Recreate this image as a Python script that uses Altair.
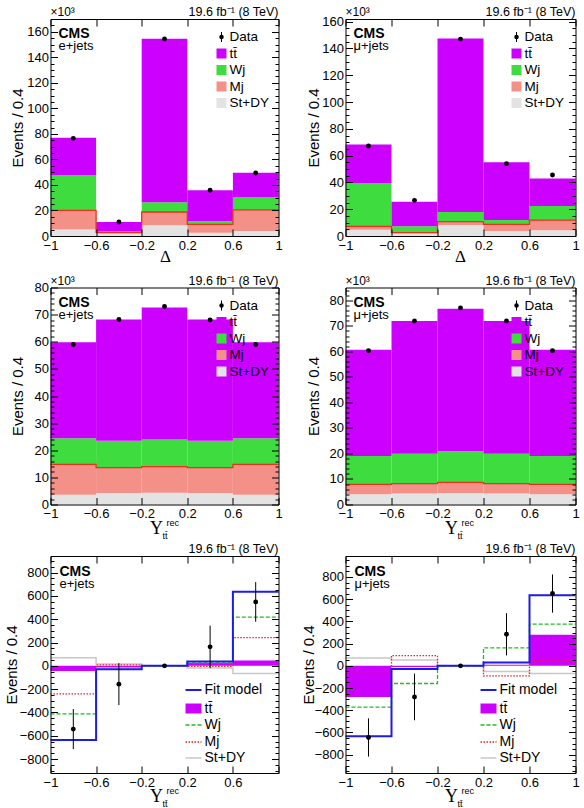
import altair as alt
import pandas as pd

FONT = "Liberation Sans"
SERIF = "Liberation Serif"
H = 217
W_LEFT, W_RIGHT = 228, 230

EDGES = [-1.0, -0.6, -0.2, 0.2, 0.6, 1.0]
CENTERS = [-0.8, -0.4, 0.0, 0.4, 0.8]
X_TICKS = [-1.0, -0.6, -0.2, 0.2, 0.6, 1.0]
X_LABELS_NO_1 = [-1.0, -0.6, -0.2, 0.2, 0.6]

# ---- Row 1: Delta, events in units of 10^3 ----
E_D_DATA = [76.5, 11.0, 154.3, 35.8, 49.3]
E_D_TT = [29.2, 7.1, 128.2, 24.1, 19.1]
E_D_WJ = [27.7, 1.0, 7.6, 2.6, 10.1]
E_D_MJ = [15.1, 1.1, 10.4, 6.6, 16.5]
E_D_ST = [5.0, 1.8, 8.4, 2.5, 3.9]

M_D_DATA = [67.2, 26.6, 147.0, 54.0, 45.5]
M_D_TT = [28.8, 18.4, 129.6, 43.1, 20.6]
M_D_WJ = [32.4, 4.7, 7.2, 3.2, 10.5]
M_D_MJ = [2.5, 0.5, 2.5, 5.0, 7.7]
M_D_ST = [4.7, 2.0, 8.2, 3.7, 4.2]

# ---- Row 2: Upsilon, events in units of 10^3 ----
E_U_DATA = [59.0, 68.2, 73.0, 68.0, 59.0]
E_U_TT = [35.4, 44.7, 48.6, 44.7, 35.4]
E_U_WJ = [9.6, 9.9, 10.0, 9.9, 9.6]
E_U_MJ = [11.2, 9.4, 9.7, 9.4, 11.2]
E_U_ST = [3.6, 4.2, 4.3, 4.2, 3.6]

M_U_DATA = [60.2, 71.9, 77.0, 71.9, 60.2]
M_U_TT = [41.6, 52.0, 55.8, 52.0, 41.6]
M_U_WJ = [11.1, 11.7, 12.2, 11.7, 11.1]
M_U_MJ = [3.9, 3.9, 4.2, 3.9, 3.9]
M_U_ST = [4.0, 4.3, 4.5, 4.3, 4.0]

# ---- Row 3: antisymmetric components ----
E_A_FIT = [-637, -29, 0, 37, 637]
E_A_TT = [-45, -15, 0, 25, 45]
E_A_WJ = [-412, -30, 0, 25, 418]
E_A_MJ = [-240, 8, 0, -5, 242]
E_A_ST = [70, 15, 0, -18, -66]
E_A_DATA = [-543, -157, 0, 163, 549]
E_A_ERR = [172, 180, 6, 182, 170]

M_A_FIT = [-635, -28, 0, 30, 635]
M_A_TT = [-280, -10, 0, 10, 280]
M_A_WJ = [-371, -159, 0, 162, 375]
M_A_MJ = [-52, 92, 0, -90, 51]
M_A_ST = [70, 52, 0, -52, -70]
M_A_DATA = [-645, -280, 0, 284, 651]
M_A_ERR = [172, 210, 6, 190, 172]

TT_C = "#cc00ff"
WJ_C = "#3fdc3f"
MJ_C = "#f39189"
MJ_LINE = "#e8321e"
ST_C = "#e3e3e3"
FIT_C = "#1c1ce6"
WJ_L = "#22bb22"
MJ_L = "#ee2222"
ST_L = "#c8c8c8"

ONE = pd.DataFrame({"k": [0]})
TTBAR = "tt\u0304"


def text(t, x, y, size, align="left", weight="normal", font=FONT, baseline="alphabetic"):
    return alt.Chart(ONE).mark_text(
        text=t, align=align, baseline=baseline, font=font, fontSize=size,
        fontWeight=weight, color="black"
    ).encode(x=alt.value(x), y=alt.value(y))


def box(x1, x2, y1, y2, fill):
    return alt.Chart(ONE).mark_rect(fill=fill).encode(
        x=alt.value(x1), x2=alt.value(x2), y=alt.value(y1), y2=alt.value(y2))


def hline(x1, x2, y, color, width=1.5, dash=None):
    kw = dict(color=color, strokeWidth=width)
    if dash:
        kw["strokeDash"] = dash
    return alt.Chart(ONE).mark_rule(**kw).encode(
        x=alt.value(x1), x2=alt.value(x2), y=alt.value(y))


def vline(x, y1, y2, color="black", width=1):
    return alt.Chart(ONE).mark_rule(color=color, strokeWidth=width).encode(
        x=alt.value(x), y=alt.value(y1), y2=alt.value(y2))


def step_df(vals):
    return pd.DataFrame({"x": EDGES, "y": list(vals) + [vals[-1]]})


def stack_df(comps):
    rows = []
    base = [0.0] * 5
    for name, vals in comps:
        for i, v in enumerate(vals):
            rows.append({"lo": EDGES[i], "hi": EDGES[i + 1],
                         "y0": base[i], "y1": base[i] + v, "comp": name})
        base = [b + v for b, v in zip(base, vals)]
    return pd.DataFrame(rows)


def axis_layers(w, ydom, ymajor, yminor, xlabels, title_x):
    d = pd.DataFrame({"x": [-1.0], "y": [ydom[0]]})
    xs = alt.Scale(domain=[-1, 1], nice=False, zero=False)
    ys = alt.Scale(domain=ydom, nice=False, zero=False)

    def lay(xa, ya):
        return alt.Chart(d).mark_point(opacity=0).encode(
            x=alt.X("x:Q", scale=xs, axis=xa), y=alt.Y("y:Q", scale=ys, axis=ya))

    tk = dict(labels=False, ticks=True, tickColor="black", tickWidth=1,
              grid=False, title=None, zindex=3)
    xlab = alt.Axis(orient="bottom", values=xlabels, labelExpr="format(datum.value, '~g')",
                    ticks=False, tickSize=0,
                    domain=True, domainColor="black", domainWidth=1,
                    labelFont=FONT, labelFontSize=13, labelColor="black", labelPadding=3,
                    labelFlush=False, labelOverlap=False, grid=False, title=None, zindex=3)
    ylab = alt.Axis(orient="left", values=ymajor, labelExpr="format(datum.value, 'd')",
                    ticks=False, tickSize=0,
                    domain=True, domainColor="black", domainWidth=1,
                    labelFont=FONT, labelFontSize=13, labelColor="black", labelPadding=2,
                    labelOverlap=False, labelFlush=False, grid=False,
                    title="Events / 0.4", titleFont=FONT, titleFontSize=15,
                    titleFontWeight="normal", titleColor="black",
                    titleX=title_x, titleY=H / 2, titleAngle=270, titleAlign="center",
                    titleBaseline="middle", zindex=3)
    return [
        lay(xlab, ylab),
        lay(alt.Axis(orient="top", offset=-H, values=X_TICKS, tickSize=7, domain=False, **tk),
            alt.Axis(orient="right", offset=-w, values=ymajor, tickSize=7, domain=False, **tk)),
        lay(alt.Axis(orient="bottom", offset=-H, values=X_TICKS, tickSize=7, domain=True,
                     domainColor="black", domainWidth=1, **tk),
            alt.Axis(orient="right", offset=-w, values=yminor, tickSize=3.5, domain=False, **tk)),
        lay(None, alt.Axis(orient="left", offset=-w, values=ymajor, tickSize=7, domain=True,
                           domainColor="black", domainWidth=1, **tk)),
        lay(None, alt.Axis(orient="left", offset=-w, values=yminor, tickSize=3.5,
                           domain=False, **tk)),
    ]


def xtitle(kind):
    if kind == "delta":
        return [text("\u0394", 115, H + 26, 17, align="center", font=SERIF)]
    return [
        text("\u03a5", 106, H + 29, 18, align="center", font=SERIF),
        text("rec", 116, H + 21, 9),
        text(TTBAR, 112, H + 34, 9),
    ]


def top_panel(w, data, tt, wj, mj, st, ydom, ymajor, yminor, chan, kind, title_x):
    xs = alt.Scale(domain=[-1, 1], nice=False, zero=False)
    ys = alt.Scale(domain=ydom, nice=False, zero=False)
    sdf = stack_df([("St+DY", st), ("Mj", mj), ("Wj", wj), ("tt", tt)])
    bars = alt.Chart(sdf).mark_rect().encode(
        x=alt.X("lo:Q", scale=xs, axis=None), x2="hi:Q",
        y=alt.Y("y0:Q", scale=ys, axis=None), y2="y1:Q",
        color=alt.Color("comp:N", legend=None,
                        scale=alt.Scale(domain=["St+DY", "Mj", "Wj", "tt"],
                                        range=[ST_C, MJ_C, WJ_C, TT_C])))
    mjtop = [a + b for a, b in zip(st, mj)]
    mjline = alt.Chart(step_df(mjtop)).mark_line(
        interpolate="step-after", color=MJ_LINE, strokeWidth=1.3).encode(
        x=alt.X("x:Q", scale=xs, axis=None), y=alt.Y("y:Q", scale=ys, axis=None))
    pts = alt.Chart(pd.DataFrame({"x": CENTERS, "y": data})).mark_circle(
        size=24, color="black", opacity=1).encode(
        x=alt.X("x:Q", scale=xs, axis=None), y=alt.Y("y:Q", scale=ys, axis=None))

    layers = [bars, mjline, pts] + axis_layers(w, ydom, ymajor, yminor, X_TICKS, title_x)
    layers += [
        text("\u00d710\u00b3", 0, -3, 12),
        text("19.6 fb\u207b\u00b9 (8 TeV)", w, -3, 12.5, align="right"),
        text("CMS", 8, 19, 14, weight="bold"),
        text(chan, 8, 31, 13),
    ]
    lx, tx = 166, 179
    rows = [18, 34.5, 51, 67.5, 84]
    layers += [
        alt.Chart(ONE).mark_circle(size=20, color="black", opacity=1).encode(
            x=alt.value(lx + 5), y=alt.value(rows[0])),
        vline(lx + 5, rows[0] - 5, rows[0] + 5),
        box(lx, lx + 10, rows[1] - 5, rows[1] + 5, TT_C),
        box(lx, lx + 10, rows[2] - 5, rows[2] + 5, WJ_C),
        box(lx, lx + 10, rows[3] - 5, rows[3] + 5, MJ_C),
        box(lx, lx + 10, rows[4] - 5, rows[4] + 5, ST_C),
    ]
    for r, lab in zip(rows, ["Data", TTBAR, "Wj", "Mj", "St+DY"]):
        layers.append(text(lab, tx, r, 13.5, baseline="middle"))
    layers += xtitle(kind)
    return alt.layer(*layers).resolve_scale(x="shared", y="shared").resolve_axis(
        x="independent", y="independent").properties(width=w, height=H)


def bottom_panel(w, fit, tt, wj, mj, st, data, err, ydom, chan, xlabels, title_x):
    xs = alt.Scale(domain=[-1, 1], nice=False, zero=False)
    ys = alt.Scale(domain=ydom, nice=False, zero=False)
    enc = dict(x=alt.X("x:Q", scale=xs, axis=None), y=alt.Y("y:Q", scale=ys, axis=None))
    ttdf = pd.DataFrame({"lo": EDGES[:-1], "hi": EDGES[1:], "y0": [0] * 5, "y1": tt})
    ttbars = alt.Chart(ttdf).mark_rect(color=TT_C).encode(
        x=alt.X("lo:Q", scale=xs, axis=None), x2="hi:Q",
        y=alt.Y("y0:Q", scale=ys, axis=None), y2="y1:Q")
    stl = alt.Chart(step_df(st)).mark_line(interpolate="step-after", color=ST_L,
                                           strokeWidth=1.5).encode(**enc)
    mjl = alt.Chart(step_df(mj)).mark_line(interpolate="step-after", color=MJ_L,
                                           strokeWidth=1.3, strokeDash=[1.5, 1.5]).encode(**enc)
    wjl = alt.Chart(step_df(wj)).mark_line(interpolate="step-after", color=WJ_L,
                                           strokeWidth=1.3, strokeDash=[4, 2]).encode(**enc)
    fitl = alt.Chart(step_df(fit)).mark_line(interpolate="step-after", color=FIT_C,
                                             strokeWidth=2).encode(**enc)
    ddf = pd.DataFrame({"x": CENTERS, "y": data,
                        "lo": [d - e for d, e in zip(data, err)],
                        "hi": [d + e for d, e in zip(data, err)]})
    ebars = alt.Chart(ddf).mark_rule(color="black", strokeWidth=1).encode(
        x=alt.X("x:Q", scale=xs, axis=None),
        y=alt.Y("lo:Q", scale=ys, axis=None), y2="hi:Q")
    pts = alt.Chart(ddf).mark_circle(size=24, color="black", opacity=1).encode(**enc)

    yticks = [-800, -600, -400, -200, 0, 200, 400, 600, 800]
    yminor = [v for v in range(-950, 951, 50) if v % 200 != 0]
    layers = [ttbars, stl, mjl, wjl, fitl, ebars, pts] + axis_layers(
        w, ydom, yticks, yminor, xlabels, title_x)
    layers += [
        text("19.6 fb\u207b\u00b9 (8 TeV)", w, -3, 12.5, align="right"),
        text("CMS", 9, 20, 14, weight="bold"),
        text(chan, 9, 32, 13),
    ]
    lx1, lx2, tx = 135, 151, 154
    rows = [134, 152.5, 169, 186, 202]
    layers += [
        hline(lx1, lx2, rows[0], FIT_C, 2),
        box(lx1, lx2, rows[1] - 5, rows[1] + 5, TT_C),
        hline(lx1, lx2, rows[2], WJ_L, 1.3, [4, 2]),
        hline(lx1, lx2, rows[3], MJ_L, 1.3, [1.5, 1.5]),
        hline(lx1, lx2, rows[4], ST_L, 1.5),
    ]
    for r, lab in zip(rows, ["Fit model", TTBAR, "Wj", "Mj", "St+DY"]):
        layers.append(text(lab, tx, r, 14, baseline="middle"))
    layers += xtitle("ups")
    return alt.layer(*layers).resolve_scale(x="shared", y="shared").resolve_axis(
        x="independent", y="independent").properties(width=w, height=H)


mj20 = [v for v in range(0, 171, 5) if v % 20 != 0]
mn10 = [v for v in range(0, 86, 2) if v % 10 != 0]

p1 = top_panel(W_LEFT, E_D_DATA, E_D_TT, E_D_WJ, E_D_MJ, E_D_ST, [0, 170],
               list(range(0, 161, 20)), mj20, "e+jets", "delta", -33)
p2 = top_panel(W_RIGHT, M_D_DATA, M_D_TT, M_D_WJ, M_D_MJ, M_D_ST, [0, 162],
               list(range(0, 161, 20)), [v for v in mj20 if v <= 162], "\u03bc+jets",
               "delta", -32)
p3 = top_panel(W_LEFT, E_U_DATA, E_U_TT, E_U_WJ, E_U_MJ, E_U_ST, [0, 80],
               list(range(0, 81, 10)), [v for v in mn10 if v <= 80], "e+jets", "ups", -33)
p4 = top_panel(W_RIGHT, M_U_DATA, M_U_TT, M_U_WJ, M_U_MJ, M_U_ST, [0, 85],
               list(range(0, 81, 10)), mn10, "\u03bc+jets", "ups", -32)
p5 = bottom_panel(W_LEFT, E_A_FIT, E_A_TT, E_A_WJ, E_A_MJ, E_A_ST, E_A_DATA, E_A_ERR,
                  [-920, 943], "e+jets", X_LABELS_NO_1, -39)
p6 = bottom_panel(W_RIGHT, M_A_FIT, M_A_TT, M_A_WJ, M_A_MJ, M_A_ST, M_A_DATA, M_A_ERR,
                  [-965, 989], "\u03bc+jets", X_TICKS, -37)

chart = alt.concat(p1, p2, p3, p4, p5, p6, columns=2,
                   spacing={"row": 51.5, "column": 67}, bounds="flush").properties(
    padding={"left": 3.5, "top": 5, "right": 0, "bottom": 0},
    background="white",
).configure_view(stroke="transparent")

chart.save("out.html", embed_options={"renderer": "svg", "actions": False})
